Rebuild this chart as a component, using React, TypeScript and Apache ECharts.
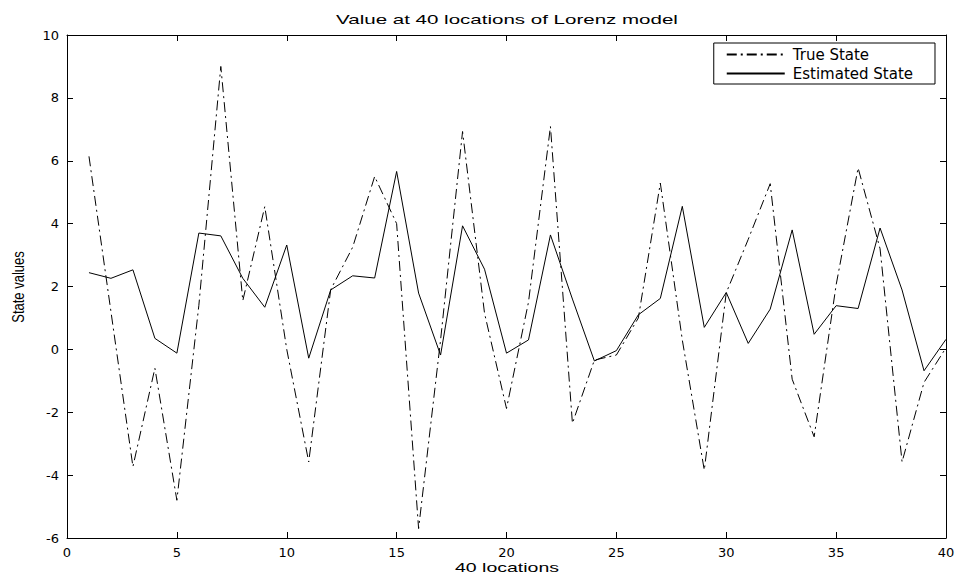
import React, { useEffect, useRef } from "react";
import * as echarts from "echarts";

const locations = [1, 2, 3, 4, 5, 6, 7, 8, 9, 10, 11, 12, 13, 14, 15, 16, 17, 18, 19, 20, 21, 22, 23, 24, 25, 26, 27, 28, 29, 30, 31, 32, 33, 34, 35, 36, 37, 38, 39, 40];

const trueState = [6.14, 1.2, -3.73, -0.6, -4.8, 1.4, 9.0, 1.55, 4.54, 0.0, -3.58, 1.9, 3.25, 5.5, 4.0, -5.7, 0.3, 6.93, 1.15, -1.88, 1.5, 7.09, -2.35, -0.34, -0.18, 1.0, 5.29, 0.3, -3.84, 1.8, 3.5, 5.27, -0.95, -2.78, 2.05, 5.77, 3.2, -3.58, -1.05, 0.05];

const estimatedState = [2.44, 2.26, 2.53, 0.35, -0.12, 3.7, 3.61, 2.26, 1.34, 3.32, -0.28, 1.89, 2.34, 2.27, 5.66, 1.79, -0.18, 3.93, 2.55, -0.12, 0.3, 3.64, 1.6, -0.37, -0.04, 1.1, 1.62, 4.55, 0.7, 1.81, 0.19, 1.28, 3.8, 0.48, 1.39, 1.3, 3.86, 1.89, -0.68, 0.32];

const titleText = "Value at 40 locations of Lorenz model";
const xName = "40 locations";
const yName = "State values";
const seriesNames = ["True State", "Estimated State"];

export default function App() {
  const ref = useRef<HTMLDivElement>(null);
  useEffect(() => {
    if (!ref.current) return;
    const chart = echarts.init(ref.current, null, { renderer: "svg" });
    const axisCommon = {
      type: "value" as const,
      axisLine: { show: true, onZero: false, lineStyle: { color: "#000", width: 1 } },
      axisTick: { show: true, inside: true, length: 6, lineStyle: { color: "#000" } },
      splitLine: { show: false },
    };
    const labelStyle = { color: "#000", fontFamily: "DejaVu Sans", fontSize: 13 };
    chart.setOption({
      animation: false,
      backgroundColor: "#fff",
      textStyle: { fontFamily: "Liberation Sans", color: "#000" },
      grid: { left: 67, right: 17, top: 35, bottom: 43 },
      xAxis: [
        { ...axisCommon, position: "bottom", min: 0, max: 40, interval: 5, axisLabel: { ...labelStyle, margin: 8 } },
        { ...axisCommon, position: "top", min: 0, max: 40, interval: 5, axisLabel: { show: false } },
      ],
      yAxis: [
        { ...axisCommon, position: "left", min: -6, max: 10, interval: 2, axisLabel: { ...labelStyle, margin: 8 } },
        { ...axisCommon, position: "right", min: -6, max: 10, interval: 2, axisLabel: { show: false } },
      ],
      legend: {
        orient: "vertical",
        right: 28,
        top: 43,
        padding: [4, 22, 3, 12],
        itemGap: 4,
        itemWidth: 58,
        itemHeight: 14,
        backgroundColor: "#fff",
        borderColor: "#000",
        borderWidth: 1,
        borderRadius: 0,
        itemStyle: { opacity: 0 },
        textStyle: { fontFamily: "DejaVu Sans", fontSize: 15, color: "#000", padding: [0, 0, 0, 3] },
        data: seriesNames,
      },
      graphic: [
        {
          type: "text",
          x: 507,
          y: 19,
          scaleX: 1.58,
          style: { text: titleText, fontSize: 13, fontFamily: "Liberation Sans", fill: "#000", align: "center", verticalAlign: "middle" },
        },
        {
          type: "text",
          x: 507,
          y: 568,
          scaleX: 1.5,
          style: { text: xName, fontSize: 13, fontFamily: "Liberation Sans", fill: "#000", align: "center", verticalAlign: "middle" },
        },
        {
          type: "text",
          x: 18,
          y: 287,
          rotation: Math.PI / 2,
          scaleY: 1.3,
          style: { text: yName, fontSize: 13, fontFamily: "Liberation Sans", fill: "#000", align: "center", verticalAlign: "middle" },
        },
      ],
      series: [
        {
          name: seriesNames[0],
          type: "line",
          symbol: "none",
          xAxisIndex: 0,
          yAxisIndex: 0,
          data: locations.map((x, i) => [x, trueState[i]]),
          lineStyle: { color: "#000", width: 1, type: [10, 4, 2, 4] },
          itemStyle: { color: "#000" },
        },
        {
          name: seriesNames[1],
          type: "line",
          symbol: "none",
          xAxisIndex: 0,
          yAxisIndex: 0,
          data: locations.map((x, i) => [x, estimatedState[i]]),
          lineStyle: { color: "#000", width: 1, type: "solid" },
          itemStyle: { color: "#000" },
        },
      ],
    });
    return () => chart.dispose();
  }, []);
  return <div ref={ref} style={{ width: 963, height: 581, position: "absolute", left: 0, top: 0 }} />;
}
